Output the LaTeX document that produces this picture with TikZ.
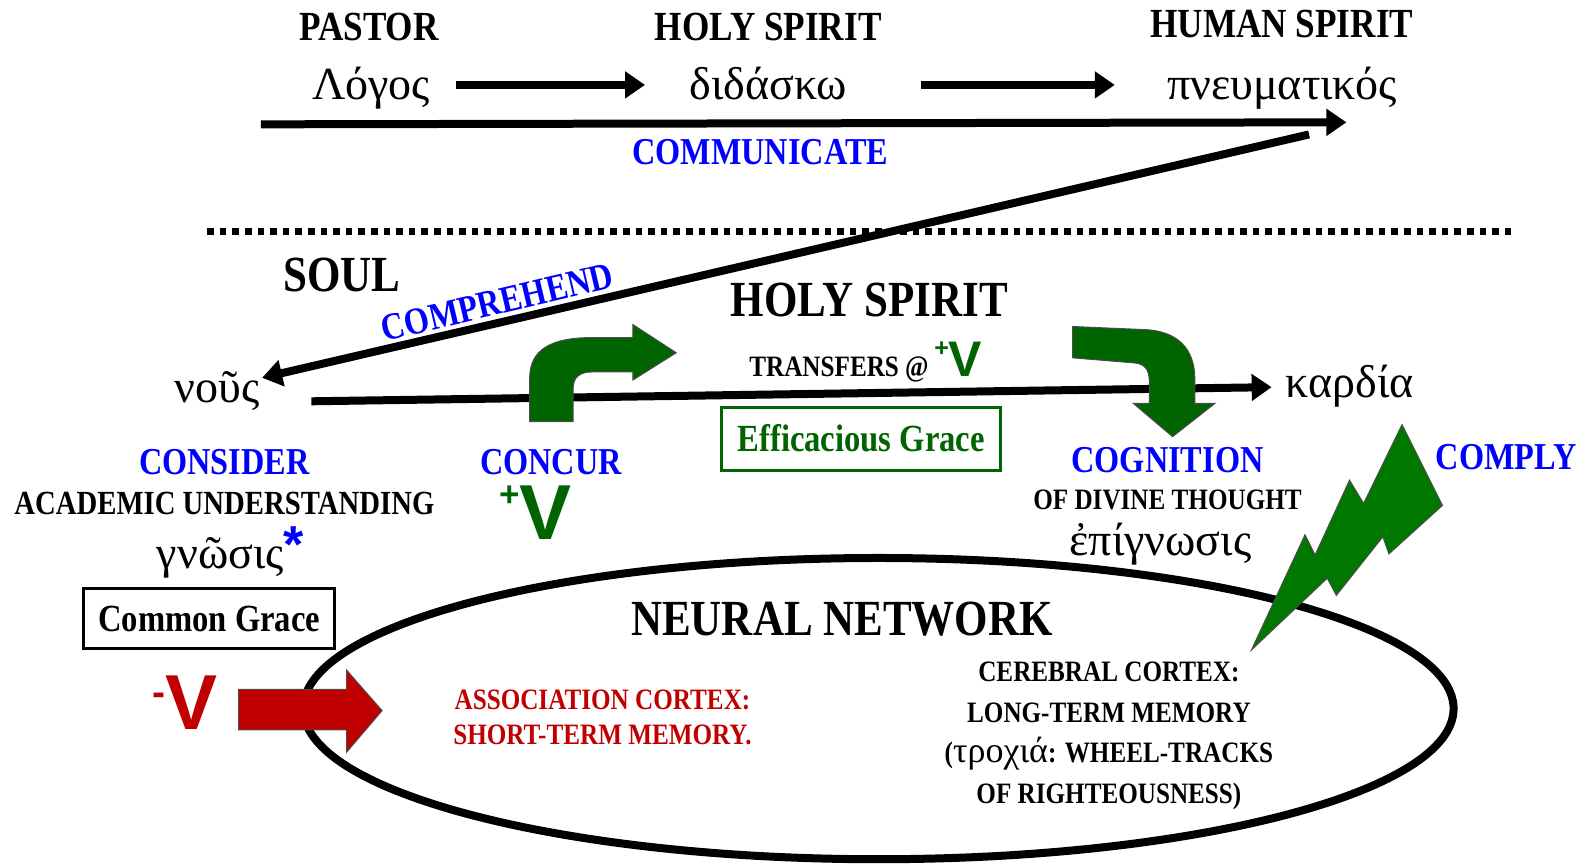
\documentclass[tikz,border=0pt]{standalone}
\usepackage{fontspec}
\setmainfont{Liberation Serif}
\newfontfamily\condfont{Liberation Serif}[FakeStretch=0.85]
\newfontfamily\vfont{Liberation Sans}
\usetikzlibrary{arrows.meta, positioning}
\definecolor{vblue}{RGB}{0,0,255}
\definecolor{sgreen}{RGB}{0,100,0}
\definecolor{bgreen}{RGB}{0,120,0}
\definecolor{vred}{RGB}{192,0,0}
\newcommand{\signV}[3]{\raisebox{#2}{\scalebox{#3}{#1}}V}
\tikzset{
head/.style={font=\condfont\bfseries\fontsize{20.7}{24}\selectfont, inner sep=1pt},
bighead/.style={font=\condfont\bfseries\fontsize{25.3}{30}\selectfont, inner sep=1pt},
verb/.style={font=\condfont\bfseries\fontsize{19}{22}\selectfont, text=vblue, inner sep=1pt},
minor/.style={font=\condfont\bfseries\fontsize{14.8}{20.2}\selectfont, inner sep=1pt, align=center},
greek/.style={font=\fontsize{23}{26}\selectfont, text height=19.5pt, text depth=5.3pt, inner sep=1pt},
grace/.style={draw, line width=1.5pt, font=\condfont\bfseries\fontsize{19.2}{22}\selectfont, inner sep=0pt},
vee/.style={font=\vfont\bfseries\fontsize{#1}{#1}\selectfont, inner sep=0pt},
flow/.style={line width=4pt, -{Triangle[length=10pt,width=13pt]}},
block/.style={draw=black!70, line width=0.5pt}
}
\begin{document}
\begin{tikzpicture}[x=0.5055pt, y=-0.5055pt]
\useasboundingbox (0,0) rectangle (1568,855);

% spirit level
\node[head] (pastor) at (365,27) {PASTOR};
\node[head] (hs) at (760,27) {HOLY SPIRIT};
\node[head] (human) at (1268,24) {HUMAN SPIRIT};
\node[greek] (logos) at (367,84) {Λόγος};
\node[greek] (didasko) at (760,84) {διδάσκω};
\node[greek] (pneum) at (1268,84) {πνευματικός};
\node[verb] (comm) at (752,150) {COMMUNICATE};

\path[flow] (logos) edge[shorten <=12pt, shorten >=21pt] (didasko)
	(didasko) edge[shorten <=36pt, shorten >=25pt] (pneum);

\coordinate (commL) at (258,123);
\coordinate (commR) at (1332,121);
\draw[flow] (commL) -- (commR);

\draw[line width=3.3pt, dash pattern=on 3.3pt off 3pt] (205,229) -- (1495,229);

% soul level
\node[bighead] (soul) at (338,272) {SOUL};
\node[bighead] (hs2) at (860,297) {HOLY SPIRIT};
\node[greek] (nous) at (215,384) {νοῦς};
\node[greek] (kardia) at (1335,379) {καρδία};

\coordinate (compR) at (1295,133);
\draw[flow] (compR) -- (nous);
\node[verb, rotate=13.3] (comp) at (492,299) {COMPREHEND};

\coordinate (midL) at (308,397);
\coordinate (midR) at (1258,383);
\draw[flow] (midL) -- (midR);

\node[minor] (xfer) at (830,365) {TRANSFERS @};
\node[vee=25, text=sgreen] (xv) at (948,355) {\signV{+}{0.4em}{0.5}};
\node[grace, draw=sgreen, text=sgreen, minimum width=139.5pt, minimum height=31.3pt] (eff) at (852,434) {Efficacious Grace};

\node[verb] (consider) at (222,457) {CONSIDER};
\node[minor, font=\condfont\bfseries\fontsize{16.9}{20}\selectfont] (acad) at (222,498) {ACADEMIC UNDERSTANDING};
\node[greek] (gnosis) at (228,548) {γνῶσις\textcolor{vblue}{\raisebox{0.12em}{\vfont\bfseries\fontsize{26}{26}\selectfont *}}};
\node[grace, minimum width=125.4pt, minimum height=30.3pt] (common) at (207,612) {Common Grace};

\node[verb] (concur) at (545,457) {CONCUR};
\node[vee=39, text=sgreen] (cv) at (530,507) {\signV{+}{0.42em}{0.45}};

\node[verb] (cogn) at (1155,455) {COGNITION};
\node[minor] (divine) at (1155,495) {OF DIVINE THOUGHT};
\node[greek] (epig) at (1148,535) {ἐπίγνωσις};
\node[verb] (comply) at (1490,452) {COMPLY};

% neural network
\draw[line width=4pt] (869,701) ellipse [x radius=569, y radius=149];
\node[bighead] (neural) at (833,612) {NEURAL NETWORK};
\node[minor, text=vred, font=\condfont\bfseries\fontsize{14.8}{17.5}\selectfont] (assoc) at (596,710) {ASSOCIATION CORTEX:\\SHORT-TERM MEMORY.};
\node[minor] (cortex) at (1097,728) {CEREBRAL CORTEX:\\LONG-TERM MEMORY\\({\rmfamily\mdseries\fontsize{18}{20.2}\selectfont τροχιά}: WHEEL-TRACKS\\OF RIGHTEOUSNESS)};
\node[vee=39, text=vred] (mv) at (183,695) {\signV{-}{0.31em}{0.5}};

% block arrows
\filldraw[block, fill=sgreen] (524,417) -- (524,374) .. controls (524,346) and (545,334) .. (585,334)
	-- (626,334) -- (626,321) -- (669,349) -- (626,376) -- (626,368) -- (585,368)
	.. controls (573,368) and (567,374) .. (567,384) -- (567,417) -- cycle;
\filldraw[block, fill=sgreen] (1061,323) -- (1131,326) .. controls (1165,327) and (1182,345) .. (1182,375)
	-- (1182,399) -- (1202,399) -- (1160,432) -- (1121,399) -- (1137,399) -- (1137,378)
	.. controls (1137,366) and (1133,360) .. (1122,359) -- (1061,354) -- cycle;
\filldraw[block, fill=vred] (236,682) -- (343,682) -- (343,663) -- (378,703) -- (343,744)
	-- (343,722) -- (236,722) -- cycle;
\filldraw[block, fill=bgreen] (1238,643) -- (1291,529) -- (1301,549) -- (1335,475) -- (1349,498)
	-- (1387,420) -- (1427,500) -- (1374,548) -- (1368,531) -- (1322,589) -- (1313,572) -- cycle;
\end{tikzpicture}
\end{document}
